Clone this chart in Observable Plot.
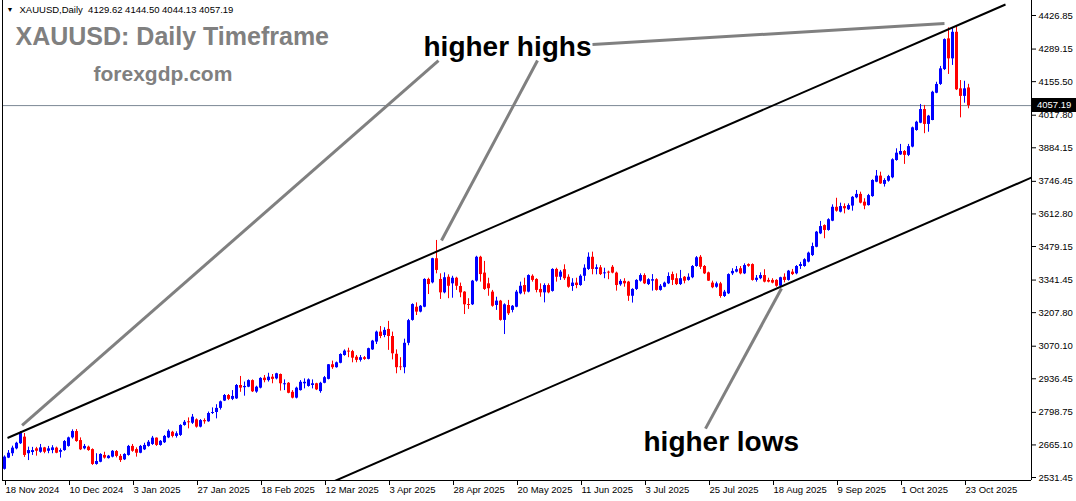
<!DOCTYPE html>
<html><head><meta charset="utf-8">
<script src="https://cdn.jsdelivr.net/npm/d3@7"></script>
<script src="https://cdn.jsdelivr.net/npm/@observablehq/plot@0.6"></script>
<style>html,body{margin:0;padding:0;background:#fff}#chart svg{display:block}</style>
</head><body><div id="chart"></div>
<script>
// ---- Data (XAUUSD daily candles) ----
const open = [2565,2611,2629,2649,2670,2697,2629,2634,2649,2635, 2653,2639,2642,2652,2635,2642,2659,2694,2720,2683,
 2649,2656,2646,2585,2594,2622,2609,2615,2638,2618, 2604,2622,2659,2646,2631,2645,2659,2667,2693,2663,
 2674,2694,2717,2700,2704,2745,2760,2754,2768,2738, 2765,2760,2794,2798,2815,2845,2868,2852,2854,2909,
 2900,2902,2929,2882,2898,2939,2929,2943,2936,2954, 2912,2918,2881,2857,2888,2916,2905,2909,2916,2884,
 2918,2934,2994,2982,3000,3032,3050,3048,3025,3012, 3023,3016,3055,3087,3128,3114,3139,3110,3037,2985,
 2982,3082,3176,3230,3210,3230,3344,3330,3429,3344, 3289,3353,3326,3349,3315,3292,3241,3240,3337,3435,
 3370,3326,3292,3237,3255,3176,3237,3217,3230,3285, 3319,3292,3357,3344,3303,3289,3319,3295,3385,3353,
 3384,3353,3315,3329,3319,3357,3385,3435,3385,3392, 3367,3374,3394,3370,3322,3336,3333,3275,3303,3337,
 3360,3323,3337,3343,3299,3312,3326,3364,3347,3323, 3353,3340,3351,3397,3435,3397,3371,3329,3312,3326,
 3274,3285,3367,3374,3388,3367,3405,3405,3340,3347, 3360,3340,3340,3340,3316,3353,3340,3374,3367,3397,
 3397,3415,3442,3476,3531,3565,3545,3583,3640,3620, 3643,3630,3645,3679,3693,3661,3647,3684,3743,3768,
 3734,3747,3761,3832,3855,3869,3853,3887,3955,3985, 4041,3980,3996,4108,4144,4205,4331,4249,4358,4126,
 4095,4129.62];
const high = [2620,2642,2660,2676,2720,2712,2656,2655,2655,2667, 2655,2659,2662,2656,2649,2683,2697,2727,2728,2694,
 2667,2660,2649,2629,2629,2635,2622,2642,2642,2626, 2629,2663,2667,2653,2663,2672,2683,2700,2694,2683,
 2704,2727,2721,2719,2748,2765,2776,2790,2772,2769, 2772,2800,2817,2830,2845,2872,2872,2888,2913,2946,
 2923,2932,2932,2906,2941,2950,2959,2954,2959,2956, 2932,2921,2888,2902,2929,2936,2936,2932,2918,2922,
 2946,2995,3009,3005,3039,3055,3062,3053,3032,3032, 3028,3062,3094,3132,3151,3146,3172,3128,3055,3023,
 3099,3180,3244,3248,3237,3347,3349,3431,3504,3367, 3371,3363,3357,3353,3329,3294,3265,3340,3439,3439,
 3418,3349,3299,3271,3258,3244,3258,3237,3299,3333, 3349,3363,3363,3347,3326,3326,3326,3388,3390,3381,
 3404,3363,3347,3349,3363,3404,3453,3456,3404,3401, 3390,3378,3401,3374,3343,3347,3336,3306,3343,3367,
 3367,3347,3364,3347,3323,3333,3371,3374,3367,3381, 3356,3367,3401,3438,3442,3401,3374,3337,3333,3332,
 3299,3367,3388,3397,3397,3408,3408,3408,3360,3371, 3384,3349,3347,3343,3353,3367,3381,3385,3401,3414,
 3429,3456,3493,3541,3582,3568,3593,3650,3677,3657, 3654,3654,3684,3709,3702,3675,3693,3753,3791,3784,
 3757,3771,3839,3880,3898,3873,3898,3969,3993,4062, 4058,4017,4116,4153,4218,4331,4376,4376,4382,4160,
 4157,4144.50];
const low = [2562,2609,2618,2645,2667,2614,2601,2622,2619,2631, 2629,2629,2629,2629,2611,2639,2656,2689,2676,2642,
 2645,2639,2581,2582,2592,2607,2607,2612,2612,2593, 2601,2619,2635,2615,2629,2642,2656,2663,2659,2660,
 2671,2691,2694,2693,2700,2742,2731,2749,2734,2735, 2750,2758,2790,2772,2808,2843,2847,2847,2852,2881,
 2865,2900,2880,2877,2895,2920,2923,2916,2932,2886, 2888,2875,2854,2854,2886,2895,2902,2895,2888,2877,
 2916,2932,2975,2980,2998,3029,3023,3002,3002,3005, 3012,3014,3053,3077,3101,3105,3053,3014,2957,2970,
 2957,3072,3173,3196,3207,3228,3282,3326,3367,3262, 3285,3265,3267,3299,3269,3200,3221,3237,3333,3333,
 3299,3275,3230,3217,3173,3118,3196,3207,3228,3281, 3281,3289,3333,3289,3271,3248,3285,3292,3333,3340,
 3340,3308,3295,3306,3316,3336,3381,3363,3363,3360, 3347,3343,3367,3296,3316,3312,3254,3247,3299,3333,
 3323,3319,3296,3296,3296,3310,3323,3319,3319,3319, 3326,3337,3347,3394,3385,3364,3336,3306,3308,3267,
 3270,3282,3360,3371,3363,3364,3394,3337,3333,3343, 3330,3330,3326,3312,3314,3330,3337,3360,3363,3385,
 3394,3412,3438,3474,3528,3511,3542,3581,3620,3617, 3613,3627,3624,3675,3654,3630,3645,3681,3741,3734,
 3723,3743,3757,3829,3853,3816,3848,3884,3952,3983, 3942,3948,3995,4106,4140,4201,4185,4222,4119,4007,
 4067,4044.13];
const close = [2615,2631,2652,2672,2713,2622,2642,2642,2639,2653, 2635,2649,2653,2631,2642,2679,2694,2720,2679,2645,
 2659,2642,2585,2597,2626,2611,2619,2639,2618,2601, 2626,2659,2639,2631,2659,2663,2676,2693,2663,2680,
 2700,2721,2700,2711,2745,2758,2756,2779,2738,2765, 2760,2794,2798,2815,2842,2868,2852,2864,2909,2898,
 2905,2929,2883,2902,2938,2929,2943,2934,2957,2916, 2916,2877,2857,2898,2922,2922,2932,2916,2891,2918,
 2941,2994,2982,3002,3036,3050,3046,3021,3012,3023, 3016,3060,3091,3128,3110,3135,3110,3039,2982,2982,
 3082,3175,3241,3210,3234,3344,3323,3429,3381,3289, 3351,3316,3349,3316,3289,3240,3237,3337,3435,3364,
 3303,3306,3234,3255,3176,3240,3203,3234,3292,3316, 3292,3360,3340,3299,3289,3319,3289,3385,3353,3374,
 3347,3312,3329,3319,3357,3390,3435,3385,3392,3364, 3371,3370,3370,3319,3336,3326,3275,3303,3340,3360,
 3326,3343,3343,3299,3316,3329,3356,3340,3323,3347, 3337,3353,3397,3433,3394,3367,3337,3310,3326,3274,
 3292,3364,3377,3384,3367,3401,3398,3340,3349,3360, 3333,3333,3329,3316,3351,3340,3378,3364,3397,3405,
 3425,3452,3479,3538,3561,3545,3589,3640,3624,3643, 3634,3647,3681,3693,3657,3645,3688,3750,3768,3736,
 3750,3766,3835,3862,3869,3853,3889,3966,3989,4041, 3980,4014,4112,4144,4208,4328,4249,4358,4122,4095,
 4126,4057.19];

// x-axis: bar index of each date label, and the labels
const dateTickIndex = [0,16,32,48,64,80,96,112,128,144,160,176,192,208,224,240];
const dateTickLabels = ["18 Nov 2024","10 Dec 2024","3 Jan 2025","27 Jan 2025","18 Feb 2025","12 Mar 2025",
 "3 Apr 2025","28 Apr 2025","20 May 2025","11 Jun 2025","3 Jul 2025","25 Jul 2025","18 Aug 2025",
 "9 Sep 2025","1 Oct 2025","23 Oct 2025"];
// y-axis price ticks
const priceTicks = [2531.45,2665.10,2798.75,2936.45,3070.10,3207.80,3341.45,3479.15,3612.80,3746.45,
 3884.15,4017.80,4155.50,4289.15,4426.85];

// Trend channel lines (bar index, price)
const channelLines = [
  {x1: 0.75, y1: 2693.5, x2: 250.25, y2: 4472},
  {x1: 82.25, y1: 2515, x2: 256.75, y2: 3762}
];
// Gray pointer lines of the annotations
const pointerLines = [
  {x1: 4.4, y1: 2745, x2: 108.5, y2: 4242},
  {x1: 109.25, y1: 3504, x2: 133.25, y2: 4242},
  {x1: 147, y1: 4308, x2: 235, y2: 4394},
  {x1: 175.25, y1: 2732, x2: 194.25, y2: 3307}
];
const annotations = [
  {x: 104.75, y: 4259, text: "higher highs"},
  {x: 159.75, y: 2642, text: "higher lows"}
];
const headerText = "XAUUSD,Daily  4129.62 4144.50 4044.13 4057.19";
const titleText = "XAUUSD: Daily Timeframe";
const siteText = "forexgdp.com";
const lastClose = 4057.19;

const xDomain = [-0.5, 256.75];
const yDomain = [2519.15, 4488.4];

const candles = open.map((o, i) => ({i, o, h: high[i], l: low[i], c: close[i], up: close[i] >= o}));
const UP = "#0000ff", DOWN = "#ff0000";
const FONT = "'Liberation Sans', Arial, sans-serif";

const chart = Plot.plot({
  width: 1076, height: 501,
  marginLeft: 2, marginRight: 45, marginTop: 0, marginBottom: 21,
  x: {domain: xDomain, axis: null},
  y: {domain: yDomain, axis: null},
  style: {fontFamily: FONT, fontSize: "9.5px", color: "black", background: "white", overflow: "visible"},
  marks: [
    Plot.ruleY([lastClose], {stroke: "#7b8794", strokeWidth: 1}),
    Plot.ruleX(candles, {filter: d => d.up, x: "i", y1: "l", y2: "h", stroke: UP, strokeWidth: 1}),
    Plot.ruleX(candles, {filter: d => !d.up, x: "i", y1: "l", y2: "h", stroke: DOWN, strokeWidth: 1}),
    Plot.ruleX(candles, {filter: d => d.up, x: "i", y1: "o", y2: "c", stroke: UP, strokeWidth: 3}),
    Plot.ruleX(candles, {filter: d => !d.up, x: "i", y1: "o", y2: "c", stroke: DOWN, strokeWidth: 3}),
    Plot.link(channelLines, {x1: "x1", y1: "y1", x2: "x2", y2: "y2", stroke: "black", strokeWidth: 2, clip: true}),
    Plot.link(pointerLines, {x1: "x1", y1: "y1", x2: "x2", y2: "y2", stroke: "#808080", strokeWidth: 3}),
    Plot.text(annotations, {x: "x", y: "y", text: "text", textAnchor: "start", lineAnchor: "bottom",
      fontSize: 28, fontWeight: "bold", fontFamily: FONT, fill: "black"}),
    Plot.text([titleText], {frameAnchor: "top-left", dx: 13, dy: 27, lineAnchor: "top", textAnchor: "start",
      fontSize: 25, fontWeight: "bold", fontFamily: FONT, fill: "#808080"}),
    Plot.text([siteText], {frameAnchor: "top-left", dx: 91, dy: 66, lineAnchor: "top", textAnchor: "start",
      fontSize: 21, fontWeight: "bold", fontFamily: FONT, fill: "#808080"}),
    Plot.text(["▼"], {frameAnchor: "top-left", dx: 4, dy: 7, lineAnchor: "top", textAnchor: "start",
      fontSize: 7, fill: "black"}),
    Plot.text([headerText], {frameAnchor: "top-left", dx: 17, dy: 6, lineAnchor: "top", textAnchor: "start",
      fontSize: 9.5, fill: "black", style: "white-space:pre"}),
    // chart border: left, right, bottom
    Plot.ruleX([xDomain[0], xDomain[1]], {stroke: "black"}),
    Plot.ruleY([yDomain[0]], {stroke: "black"}),
    Plot.axisY({anchor: "right", ticks: priceTicks, tickFormat: d => d.toFixed(2), tickSize: 4, tickPadding: 3, label: null}),
    Plot.axisX({anchor: "bottom", ticks: dateTickIndex, tickFormat: d => dateTickLabels[dateTickIndex.indexOf(d)],
      tickSize: 5, tickPadding: 1, textAnchor: "start", dx: 1, label: null})
  ]
});

// current price label box on the price axis
(function () {
  const svg = d3.select(chart);
  const py = Math.round(chart.scale("y").apply(lastClose));
  const xr = chart.scale("x").range[1];
  svg.append("rect").attr("x", xr + 1).attr("y", py - 7).attr("width", 44).attr("height", 14).attr("fill", "black");
  svg.append("text").attr("x", xr + 6).attr("y", py).attr("dy", "0.35em").attr("text-anchor", "start")
    .attr("fill", "white").attr("font-size", "9.5px").attr("font-family", FONT).text(lastClose.toFixed(2));
})();
document.getElementById("chart").appendChild(chart);
</script>
</body></html>
